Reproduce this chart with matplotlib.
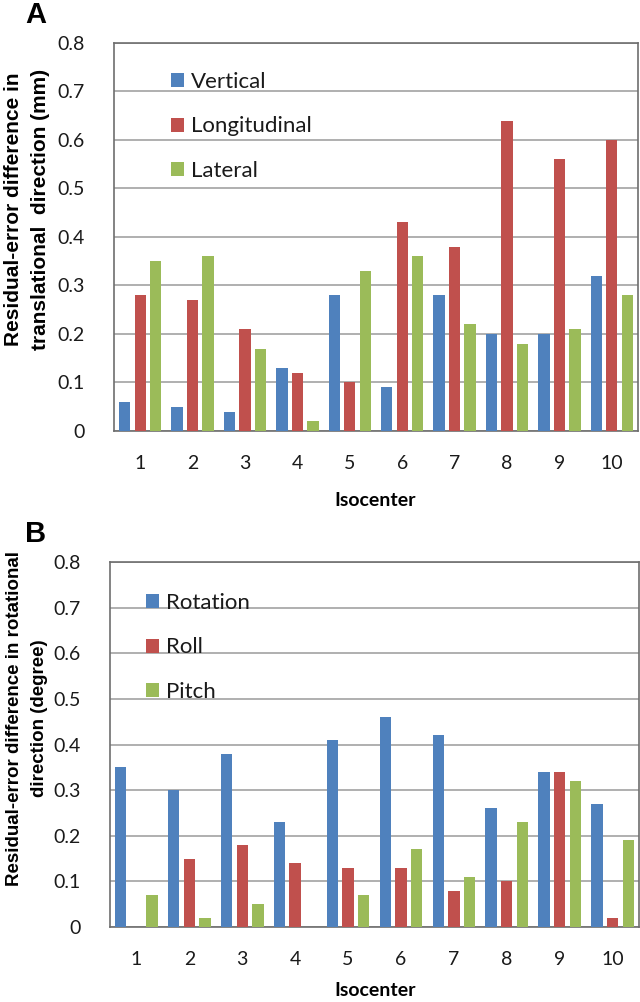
import matplotlib
matplotlib.use("Agg")
import matplotlib.pyplot as plt
import numpy as np

isocenters = ["1", "2", "3", "4", "5", "6", "7", "8", "9", "10"]

# Panel A: translational residual-error difference (mm)
vertical = [0.06, 0.05, 0.04, 0.13, 0.28, 0.09, 0.28, 0.20, 0.20, 0.32]
longitudinal = [0.28, 0.27, 0.21, 0.12, 0.10, 0.43, 0.38, 0.64, 0.56, 0.60]
lateral = [0.35, 0.36, 0.17, 0.02, 0.33, 0.36, 0.22, 0.18, 0.21, 0.28]

# Panel B: rotational residual-error difference (degree)
rotation = [0.35, 0.30, 0.38, 0.23, 0.41, 0.46, 0.42, 0.26, 0.34, 0.27]
roll = [0.00, 0.15, 0.18, 0.14, 0.13, 0.13, 0.08, 0.10, 0.34, 0.02]
pitch = [0.07, 0.02, 0.05, 0.00, 0.07, 0.17, 0.11, 0.23, 0.32, 0.19]

yticks = [0, 0.1, 0.2, 0.3, 0.4, 0.5, 0.6, 0.7, 0.8]
ytick_labels = ["0", "0.1", "0.2", "0.3", "0.4", "0.5", "0.6", "0.7", "0.8"]

BLUE = "#4F81BD"
RED = "#C0504D"
GREEN = "#9BBB59"
TICKFONT = "Lato"
W, H = 640, 1002

fig = plt.figure(figsize=(W / 100, H / 100), dpi=100)


def px_axes(left, top, right, bottom):
    return fig.add_axes([left / W, 1 - bottom / H, (right - left) / W, (bottom - top) / H])


def draw_panel(ax, series, labels, leg_xy, ylabel, ylabel_xy, ylabel_size, ylabel_ls, xlabel_y):
    x = np.arange(1, len(isocenters) + 1)
    step = 0.296
    width = 0.215
    colors = [BLUE, RED, GREEN]
    for i, (vals, lab, col) in enumerate(zip(series, labels, colors)):
        ax.bar(x + (i - 1) * step, vals, width=width, color=col, label=lab, zorder=3)
    ax.set_xlim(0.5, len(isocenters) + 0.5)
    ax.set_ylim(0, 0.8)
    ax.set_yticks(yticks)
    ax.set_yticklabels(ytick_labels, fontfamily=TICKFONT, fontsize=14)
    ax.set_xticks(x)
    ax.set_xticklabels(isocenters, fontfamily=TICKFONT, fontsize=14)
    ax.tick_params(axis="both", length=0, colors="#1a1a1a")
    ax.tick_params(axis="y", pad=21)
    ax.tick_params(axis="x", pad=17)
    ax.yaxis.grid(True, color="#9a9a9a", linewidth=1.1, zorder=0)
    ax.set_axisbelow(True)
    for s in ax.spines.values():
        s.set_color("#6e6e6e")
        s.set_linewidth(1.2)
    leg = ax.legend(loc="upper left", bbox_to_anchor=(leg_xy[0] / W, 1 - leg_xy[1] / H),
                    bbox_transform=fig.transFigure, frameon=False, borderpad=0,
                    borderaxespad=0, handlelength=0.6, handleheight=0.6, handletextpad=0.3,
                    labelspacing=1.1, prop={"family": TICKFONT, "size": 16})
    for t in leg.get_texts():
        t.set_color("#1a1a1a")
    fig.text(ylabel_xy[0] / W, 1 - ylabel_xy[1] / H, ylabel, rotation=90,
             ha="center", va="center", multialignment="center",
             fontfamily="Liberation Sans", fontweight="bold", fontsize=ylabel_size,
             linespacing=ylabel_ls)
    fig.text(375 / W, 1 - xlabel_y / H, "Isocenter", ha="center", va="center",
             fontfamily=TICKFONT, fontweight="bold", fontsize=14)


axA = px_axes(114, 43, 638, 431)
draw_panel(axA, [vertical, longitudinal, lateral], ["Vertical", "Longitudinal", "Lateral"],
           (171, 72), "Residual-error difference in\ntranslational  direction (mm)",
           (27, 209), 15, 1.5, 501)

axB = px_axes(110, 562, 639, 927)
draw_panel(axB, [rotation, roll, pitch], ["Rotation", "Roll", "Pitch"],
           (146, 593), "Residual-error difference in rotational\ndirection (degree)",
           (27, 718), 13.5, 1.6, 991)

fig.text(36 / W, 1 - 15 / H, "A", ha="center", va="center",
         fontfamily="Liberation Sans", fontweight="bold", fontsize=21)
fig.text(36 / W, 1 - 534 / H, "B", ha="center", va="center",
         fontfamily="Liberation Sans", fontweight="bold", fontsize=21)

fig.savefig("out.png", dpi=100, facecolor="white")
